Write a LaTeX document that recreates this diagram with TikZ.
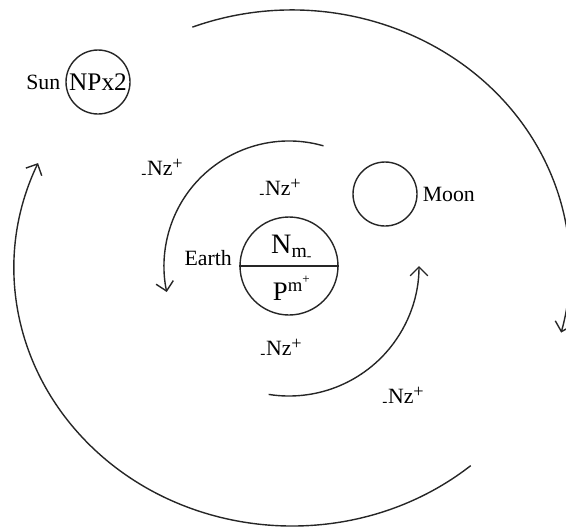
\documentclass[tikz,border=0pt]{standalone}
\usepackage{fontspec}
\setmainfont{Liberation Serif}
\usetikzlibrary{arrows.meta, positioning}

\newcommand{\nzion}{\textsubscript{-}Nz\raisebox{0.6ex}{\fontsize{13}{13}\selectfont+}}

\begin{document}
\begin{tikzpicture}[x=0.25mm, y=0.25mm,
        body/.style={draw=black!85, circle, line width=0.35mm, inner sep=0pt},
        lbl/.style={font=\fontsize{15.5}{17}\selectfont, inner sep=0pt},
        orbit/.style={draw=black!85, line width=0.35mm, -{Straight Barb[length=2.2mm, width=4.4mm]}}]
            \useasboundingbox (0,0) rectangle (566,-527);

            \node[body, minimum size=16mm, font=\fontsize{18}{20}\selectfont] (sun) at (98,-82) {NPx2};
            \node[body, minimum size=16mm] (moon) at (385,-194) {};
            \node[body, minimum size=24.5mm] (earth) at (289,-266) {};
            \draw[draw=black!85, line width=0.35mm] (earth.west) -- (earth.east);
            \node[anchor=base, inner sep=0pt, font=\fontsize{20}{22}\selectfont] (earthN) at (292,-253) {N\textsubscript{m\textsubscript{-}}};
            \node[anchor=base, inner sep=0pt, font=\fontsize{19}{21}\selectfont] (earthP) at (292,-300) {P\textsuperscript{m\textsuperscript{+}}};

            \node[lbl, left=1.2mm of sun] (sunlbl) {Sun};
            \node[lbl, right=1.2mm of moon] (moonlbl) {Moon};
            \node[lbl, anchor=base east] (earthlbl) at (232,-265) {Earth};

            \coordinate (sky) at (292,-268);
            \draw[orbit] ([shift={(111:278 and 258)}]sky) arc[start angle=111, end angle=-14.5, x radius=278, y radius=258];
            \draw[orbit] ([shift={(-50:278 and 258)}]sky) arc[start angle=-50, end angle=-204, x radius=278, y radius=258];
            \draw[orbit] ([shift={(74:125)}]earth.center) arc[start angle=74, end angle=192, radius=125];
            \draw[orbit] ([shift={(-99:130)}]earth.center) arc[start angle=-99, end angle=0, radius=130];

            \node[lbl, anchor=base west] (nz1) at (141,-175) {\nzion};
            \node[lbl, anchor=base west] (nz2) at (259,-195) {\nzion};
            \node[lbl, anchor=base west] (nz3) at (260,-355) {\nzion};
            \node[lbl, anchor=base west] (nz4) at (382,-403) {\nzion};
\end{tikzpicture}
\end{document}
